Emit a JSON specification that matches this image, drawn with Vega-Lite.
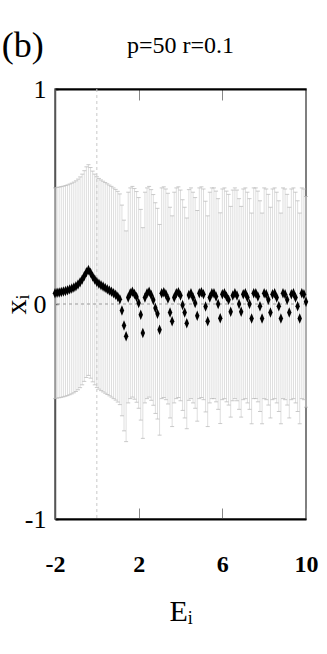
{
  "$schema": "https://vega.github.io/schema/vega-lite/v6.json",
  "width": 251,
  "height": 430,
  "autosize": "none",
  "padding": {"left": 55, "top": 89, "right": 21, "bottom": 135},
  "background": "white",
  "config": {
    "view": {"stroke": "#555555", "strokeWidth": 1.5},
    "font": "Liberation Serif"
  },
  "datasets": {
    "pts": [
      {"E": -2.0, "x": 0.050, "lo": -0.440, "hi": 0.540},
      {"E": -1.9, "x": 0.052, "lo": -0.438, "hi": 0.542},
      {"E": -1.8, "x": 0.054, "lo": -0.436, "hi": 0.544},
      {"E": -1.7, "x": 0.056, "lo": -0.434, "hi": 0.546},
      {"E": -1.6, "x": 0.058, "lo": -0.432, "hi": 0.548},
      {"E": -1.5, "x": 0.061, "lo": -0.429, "hi": 0.551},
      {"E": -1.4, "x": 0.064, "lo": -0.426, "hi": 0.554},
      {"E": -1.3, "x": 0.068, "lo": -0.422, "hi": 0.558},
      {"E": -1.2, "x": 0.072, "lo": -0.418, "hi": 0.562},
      {"E": -1.1, "x": 0.077, "lo": -0.413, "hi": 0.567},
      {"E": -1.0, "x": 0.083, "lo": -0.407, "hi": 0.573},
      {"E": -0.9, "x": 0.091, "lo": -0.399, "hi": 0.581},
      {"E": -0.8, "x": 0.101, "lo": -0.389, "hi": 0.591},
      {"E": -0.7, "x": 0.114, "lo": -0.376, "hi": 0.604},
      {"E": -0.6, "x": 0.130, "lo": -0.360, "hi": 0.620},
      {"E": -0.5, "x": 0.148, "lo": -0.342, "hi": 0.638},
      {"E": -0.4, "x": 0.158, "lo": -0.332, "hi": 0.648},
      {"E": -0.3, "x": 0.145, "lo": -0.345, "hi": 0.635},
      {"E": -0.2, "x": 0.128, "lo": -0.362, "hi": 0.618},
      {"E": -0.1, "x": 0.114, "lo": -0.376, "hi": 0.604},
      {"E": 0.0, "x": 0.102, "lo": -0.388, "hi": 0.592},
      {"E": 0.1, "x": 0.094, "lo": -0.396, "hi": 0.584},
      {"E": 0.2, "x": 0.087, "lo": -0.403, "hi": 0.577},
      {"E": 0.3, "x": 0.081, "lo": -0.409, "hi": 0.571},
      {"E": 0.4, "x": 0.075, "lo": -0.415, "hi": 0.565},
      {"E": 0.5, "x": 0.069, "lo": -0.421, "hi": 0.559},
      {"E": 0.6, "x": 0.063, "lo": -0.427, "hi": 0.553},
      {"E": 0.7, "x": 0.057, "lo": -0.433, "hi": 0.547},
      {"E": 0.8, "x": 0.050, "lo": -0.440, "hi": 0.540},
      {"E": 0.9, "x": 0.043, "lo": -0.447, "hi": 0.533},
      {"E": 1.0, "x": 0.034, "lo": -0.456, "hi": 0.524},
      {"E": 1.1, "x": 0.022, "lo": -0.468, "hi": 0.512},
      {"E": 1.2, "x": -0.030, "lo": -0.520, "hi": 0.460},
      {"E": 1.3, "x": -0.100, "lo": -0.590, "hi": 0.390},
      {"E": 1.4, "x": -0.150, "lo": -0.640, "hi": 0.340},
      {"E": 1.5, "x": 0.030, "lo": -0.460, "hi": 0.520},
      {"E": 1.6, "x": 0.050, "lo": -0.440, "hi": 0.540},
      {"E": 1.7, "x": 0.057, "lo": -0.433, "hi": 0.547},
      {"E": 1.8, "x": 0.047, "lo": -0.443, "hi": 0.537},
      {"E": 1.9, "x": 0.033, "lo": -0.457, "hi": 0.523},
      {"E": 2.0, "x": 0.005, "lo": -0.485, "hi": 0.495},
      {"E": 2.1, "x": -0.050, "lo": -0.540, "hi": 0.440},
      {"E": 2.2, "x": -0.135, "lo": -0.625, "hi": 0.355},
      {"E": 2.3, "x": 0.030, "lo": -0.460, "hi": 0.520},
      {"E": 2.4, "x": 0.050, "lo": -0.440, "hi": 0.540},
      {"E": 2.5, "x": 0.057, "lo": -0.433, "hi": 0.547},
      {"E": 2.6, "x": 0.042, "lo": -0.448, "hi": 0.532},
      {"E": 2.7, "x": 0.019, "lo": -0.471, "hi": 0.509},
      {"E": 2.8, "x": -0.019, "lo": -0.509, "hi": 0.471},
      {"E": 2.9, "x": -0.045, "lo": -0.535, "hi": 0.445},
      {"E": 3.0, "x": -0.120, "lo": -0.610, "hi": 0.370},
      {"E": 3.1, "x": 0.050, "lo": -0.440, "hi": 0.540},
      {"E": 3.2, "x": 0.055, "lo": -0.435, "hi": 0.545},
      {"E": 3.3, "x": 0.045, "lo": -0.445, "hi": 0.535},
      {"E": 3.4, "x": 0.025, "lo": -0.465, "hi": 0.515},
      {"E": 3.5, "x": -0.040, "lo": -0.530, "hi": 0.450},
      {"E": 3.6, "x": -0.080, "lo": -0.570, "hi": 0.410},
      {"E": 3.7, "x": 0.030, "lo": -0.460, "hi": 0.520},
      {"E": 3.8, "x": 0.050, "lo": -0.440, "hi": 0.540},
      {"E": 3.9, "x": 0.055, "lo": -0.435, "hi": 0.545},
      {"E": 4.0, "x": 0.040, "lo": -0.450, "hi": 0.530},
      {"E": 4.1, "x": -0.005, "lo": -0.495, "hi": 0.485},
      {"E": 4.2, "x": -0.040, "lo": -0.530, "hi": 0.450},
      {"E": 4.3, "x": -0.090, "lo": -0.580, "hi": 0.400},
      {"E": 4.4, "x": 0.042, "lo": -0.448, "hi": 0.532},
      {"E": 4.5, "x": 0.050, "lo": -0.440, "hi": 0.540},
      {"E": 4.6, "x": 0.030, "lo": -0.460, "hi": 0.520},
      {"E": 4.7, "x": 0.005, "lo": -0.485, "hi": 0.495},
      {"E": 4.8, "x": -0.055, "lo": -0.545, "hi": 0.435},
      {"E": 4.9, "x": 0.050, "lo": -0.440, "hi": 0.540},
      {"E": 5.0, "x": 0.055, "lo": -0.435, "hi": 0.545},
      {"E": 5.1, "x": 0.045, "lo": -0.445, "hi": 0.535},
      {"E": 5.2, "x": -0.012, "lo": -0.502, "hi": 0.478},
      {"E": 5.3, "x": -0.080, "lo": -0.570, "hi": 0.410},
      {"E": 5.4, "x": 0.030, "lo": -0.460, "hi": 0.520},
      {"E": 5.5, "x": 0.050, "lo": -0.440, "hi": 0.540},
      {"E": 5.6, "x": 0.050, "lo": -0.440, "hi": 0.540},
      {"E": 5.7, "x": 0.035, "lo": -0.455, "hi": 0.525},
      {"E": 5.8, "x": 0.000, "lo": -0.490, "hi": 0.490},
      {"E": 5.9, "x": -0.066, "lo": -0.556, "hi": 0.424},
      {"E": 6.0, "x": 0.045, "lo": -0.445, "hi": 0.535},
      {"E": 6.1, "x": 0.050, "lo": -0.440, "hi": 0.540},
      {"E": 6.2, "x": 0.035, "lo": -0.455, "hi": 0.525},
      {"E": 6.3, "x": 0.020, "lo": -0.470, "hi": 0.510},
      {"E": 6.4, "x": -0.036, "lo": -0.526, "hi": 0.454},
      {"E": 6.5, "x": 0.040, "lo": -0.450, "hi": 0.530},
      {"E": 6.6, "x": 0.050, "lo": -0.440, "hi": 0.540},
      {"E": 6.7, "x": 0.040, "lo": -0.450, "hi": 0.530},
      {"E": 6.8, "x": 0.000, "lo": -0.490, "hi": 0.490},
      {"E": 6.9, "x": -0.036, "lo": -0.526, "hi": 0.454},
      {"E": 7.0, "x": 0.045, "lo": -0.445, "hi": 0.535},
      {"E": 7.1, "x": 0.050, "lo": -0.440, "hi": 0.540},
      {"E": 7.2, "x": 0.030, "lo": -0.460, "hi": 0.520},
      {"E": 7.3, "x": 0.000, "lo": -0.490, "hi": 0.490},
      {"E": 7.4, "x": -0.067, "lo": -0.557, "hi": 0.423},
      {"E": 7.5, "x": 0.050, "lo": -0.440, "hi": 0.540},
      {"E": 7.6, "x": 0.050, "lo": -0.440, "hi": 0.540},
      {"E": 7.7, "x": 0.035, "lo": -0.455, "hi": 0.525},
      {"E": 7.8, "x": -0.010, "lo": -0.500, "hi": 0.480},
      {"E": 7.9, "x": -0.067, "lo": -0.557, "hi": 0.423},
      {"E": 8.0, "x": 0.050, "lo": -0.440, "hi": 0.540},
      {"E": 8.1, "x": 0.045, "lo": -0.445, "hi": 0.535},
      {"E": 8.2, "x": 0.020, "lo": -0.470, "hi": 0.510},
      {"E": 8.3, "x": -0.040, "lo": -0.530, "hi": 0.450},
      {"E": 8.4, "x": 0.045, "lo": -0.445, "hi": 0.535},
      {"E": 8.5, "x": 0.050, "lo": -0.440, "hi": 0.540},
      {"E": 8.6, "x": 0.030, "lo": -0.460, "hi": 0.520},
      {"E": 8.7, "x": -0.010, "lo": -0.500, "hi": 0.480},
      {"E": 8.8, "x": -0.067, "lo": -0.557, "hi": 0.423},
      {"E": 8.9, "x": 0.050, "lo": -0.440, "hi": 0.540},
      {"E": 9.0, "x": 0.045, "lo": -0.445, "hi": 0.535},
      {"E": 9.1, "x": 0.020, "lo": -0.470, "hi": 0.510},
      {"E": 9.2, "x": -0.040, "lo": -0.530, "hi": 0.450},
      {"E": 9.3, "x": 0.045, "lo": -0.445, "hi": 0.535},
      {"E": 9.4, "x": 0.050, "lo": -0.440, "hi": 0.540},
      {"E": 9.5, "x": 0.030, "lo": -0.460, "hi": 0.520},
      {"E": 9.6, "x": -0.010, "lo": -0.500, "hi": 0.480},
      {"E": 9.7, "x": -0.067, "lo": -0.557, "hi": 0.423},
      {"E": 9.8, "x": 0.050, "lo": -0.440, "hi": 0.540},
      {"E": 9.9, "x": 0.045, "lo": -0.445, "hi": 0.535},
      {"E": 10.0, "x": 0.010, "lo": -0.480, "hi": 0.500}
    ]
  },
  "resolve": {"scale": {"x": "shared", "y": "shared"}, "axis": {"x": "independent"}},
  "layer": [
    {
      "data": {"name": "pts"},
      "mark": {"type": "rule", "color": "#dedede", "strokeWidth": 1},
      "encoding": {
        "x": {
          "field": "E", "type": "quantitative",
          "scale": {"domain": [-2, 10], "nice": false, "zero": false},
          "axis": {
            "orient": "bottom",
            "values": [-2, 2, 6, 10],
            "labelExpr": "'' + datum.value",
            "title": "Eᵢ",
            "titleFont": "Liberation Serif",
            "titleFontSize": 30,
            "titleFontWeight": "normal",
            "titleColor": "black",
            "titlePadding": 20,
            "labelFont": "Liberation Serif",
            "labelFontSize": 24,
            "labelFontWeight": "bold",
            "labelColor": "black",
            "labelPadding": 56,
            "labelFlush": false,
            "labelBaseline": "middle",
            "grid": false,
            "domain": true,
            "domainColor": "black",
            "domainWidth": 2,
            "ticks": true,
            "tickSize": -11,
            "tickColor": "#888888",
            "tickWidth": 1
          }
        },
        "y": {
          "field": "lo", "type": "quantitative",
          "scale": {"domain": [-1, 1], "nice": false, "zero": false},
          "axis": {
            "values": [-1, 0, 1],
            "labelExpr": "'' + datum.value",
            "title": "xᵢ",
            "titleFont": "Liberation Serif",
            "titleFontSize": 30,
            "titleFontWeight": "normal",
            "titleColor": "black",
            "titlePadding": -7,
            "labelFont": "Liberation Serif",
            "labelFontSize": 26,
            "labelFontWeight": "normal",
            "labelColor": "black",
            "labelPadding": 12,
            "labelFlush": false,
            "labelBaseline": "middle",
            "grid": false,
            "domain": true,
            "domainColor": "#555555",
            "domainWidth": 1.5,
            "ticks": true,
            "tickSize": -3,
            "tickColor": "black",
            "tickWidth": 1.5
          }
        },
        "y2": {"field": "hi"}
      }
    },
    {
      "data": {"name": "pts"},
      "mark": {"type": "tick", "orient": "horizontal", "color": "#b5b5b5", "size": 4, "thickness": 1},
      "encoding": {
        "x": {"field": "E", "type": "quantitative", "axis": null},
        "y": {"field": "lo", "type": "quantitative"}
      }
    },
    {
      "data": {"name": "pts"},
      "mark": {"type": "tick", "orient": "horizontal", "color": "#b5b5b5", "size": 4, "thickness": 1},
      "encoding": {
        "x": {"field": "E", "type": "quantitative", "axis": null},
        "y": {"field": "hi", "type": "quantitative"}
      }
    },
    {
      "data": {"values": [{"E": 0}]},
      "mark": {"type": "rule", "color": "#c8c8c8", "strokeWidth": 1, "strokeDash": [3, 3]},
      "encoding": {
        "x": {
          "field": "E", "type": "quantitative",
          "axis": {
            "orient": "top",
            "values": [2, 6],
            "labels": false,
            "title": null,
            "grid": false,
            "domain": true,
            "domainColor": "black",
            "domainWidth": 2,
            "ticks": true,
            "tickSize": -11,
            "tickColor": "#888888",
            "tickWidth": 1
          }
        }
      }
    },
    {
      "data": {"values": [{"x": 0}]},
      "mark": {"type": "rule", "color": "#999999", "strokeWidth": 1, "strokeDash": [3, 3]},
      "encoding": {
        "y": {"field": "x", "type": "quantitative"}
      }
    },
    {
      "data": {"name": "pts"},
      "mark": {"type": "point", "shape": "M0,-1L0.42,0L0,1L-0.42,0Z", "filled": true, "color": "black", "opacity": 1, "size": 110, "strokeWidth": 0},
      "encoding": {
        "x": {"field": "E", "type": "quantitative", "axis": null},
        "y": {"field": "x", "type": "quantitative"}
      }
    },
    {
      "data": {"values": [{}]},
      "mark": {"type": "text", "text": "(b)", "font": "Liberation Serif", "fontSize": 36, "color": "black", "align": "left", "baseline": "middle"},
      "encoding": {
        "x": {"datum": -4.55, "type": "quantitative", "axis": null},
        "y": {"datum": 1.2, "type": "quantitative"}
      }
    },
    {
      "data": {"values": [{}]},
      "mark": {"type": "text", "text": "p=50 r=0.1", "font": "Liberation Serif", "fontSize": 24, "color": "black", "align": "center", "baseline": "middle"},
      "encoding": {
        "x": {"datum": 4, "type": "quantitative", "axis": null},
        "y": {"datum": 1.2, "type": "quantitative"}
      }
    }
  ]
}
